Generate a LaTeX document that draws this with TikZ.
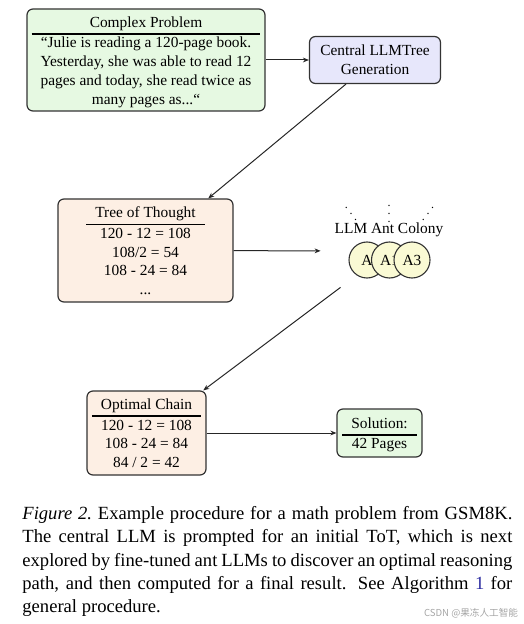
\documentclass[tikz,border=0pt]{standalone}
\usepackage{fontspec}
\setmainfont{Liberation Serif}
\newfontfamily\cjkfont{Noto Sans CJK SC}
\usetikzlibrary{arrows.meta}
\definecolor{cgreen}{HTML}{E6F9E2}
\definecolor{cblue}{HTML}{E7E7FB}
\definecolor{corange}{HTML}{FDEFE4}
\definecolor{cyellow}{HTML}{FAFAD4}
\definecolor{boxline}{HTML}{333333}
\definecolor{linkblue}{HTML}{2B2BA0}
\newcommand{\boxfont}{\fontsize{7.7}{9.35}\selectfont}
\newcommand{\capfont}{\fontsize{9.3}{11.65}\selectfont\hyphenpenalty=10000\exhyphenpenalty=10000}
\newcommand{\lowered}[1]{\raisebox{-1pt}[\height][\depth]{#1}}
\setlength\tabcolsep{4.5pt}
\setlength\arrayrulewidth{0.9pt}
\begin{document}
\begin{tikzpicture}[x=0.5pt,y=-0.5pt,
  box/.style={draw=boxline, line width=0.6pt, rounded corners=3pt, inner sep=0pt, font=\boxfont},
  ant/.style={circle, draw=boxline, line width=0.55pt, fill=cyellow, minimum size=18pt, inner sep=0pt, font=\boxfont},
  dotsym/.style={inner sep=0pt, font=\fontsize{6}{7}\selectfont},
  conn/.style={-{Stealth[length=3pt,width=2.4pt]}, line width=0.5pt, draw=black!85},
]
\useasboundingbox (0,0) rectangle (523,624);

\node[box, fill=cgreen, minimum width=119pt, minimum height=51pt] (problem) at (146,60)
  {\lowered{\begin{tabular}{c}Complex Problem\\\hline
   “Julie is reading a 120-page book.\\
   Yesterday, she was able to read 12\\
   pages and today, she read twice as\\
   many pages as...“\end{tabular}}};

\node[box, fill=cblue, minimum width=65.5pt, minimum height=23.5pt, align=center] (central) at (375,60)
  {Central LLMTree\\Generation};

\node[box, fill=corange, minimum width=87.5pt, minimum height=51.5pt] (tot) at (145.5,250.5)
  {\lowered{\begin{tabular}{c}Tree of Thought\\\hline
   120 - 12 = 108\\
   108/2 = 54\\
   108 - 24 = 84\\
   ...\end{tabular}}};

\node[inner sep=0pt, minimum width=68pt, minimum height=36pt] (colony) at (389,251) {};
\node[font=\boxfont, inner sep=0pt] (colonylabel) at (389,230) {LLM Ant Colony};
\node[dotsym] (dl) at (351,208) {$\ddots$};
\node[dotsym] (dm) at (389,208) {$\vdots$};
\node[dotsym] (dr) at (428,208) {\reflectbox{$\ddots$}};
\node[ant] (ant1) at (367,260) {A};
\node[ant] (ant2) at (389.5,260) {A1};
\node[ant] (ant3) at (412,260) {A3};

\node[box, fill=corange, minimum width=59.5pt, minimum height=42pt] (optimal) at (146.5,433)
  {\lowered{\begin{tabular}{c}Optimal Chain\\\hline
   120 - 12 = 108\\
   108 - 24 = 84\\
   84 / 2 = 42\end{tabular}}};

\node[box, fill=cgreen, minimum width=42.5pt, minimum height=24pt] (solution) at (379.5,433)
  {\lowered{\begin{tabular}{c}Solution:\\\hline 42 Pages\end{tabular}}};

\draw[conn] (problem) -- (central);
\draw[conn] (central) -- (tot);
\draw[conn] (tot) -- (colony);
\draw[conn] (colony) -- (optimal);
\draw[conn] (optimal) -- (solution);

\node[anchor=north west, inner sep=0pt, text width=245pt, align=justify, font=\capfont] (caption) at (22,506)
  {\textit{Figure 2.}\ Example procedure for a math problem from GSM8K.
   The central LLM is prompted for an initial ToT, which is next
   explored by fine-tuned ant LLMs to discover an optimal reasoning
   path, and then computed for a final result.  See Algorithm \textcolor{linkblue}{1} for
   general procedure.};

\node[inner sep=0pt, font=\cjkfont\fontsize{4.8}{6}\selectfont, text=black!35] (mark) at (471,613) {CSDN @果冻人工智能};
\end{tikzpicture}
\end{document}
